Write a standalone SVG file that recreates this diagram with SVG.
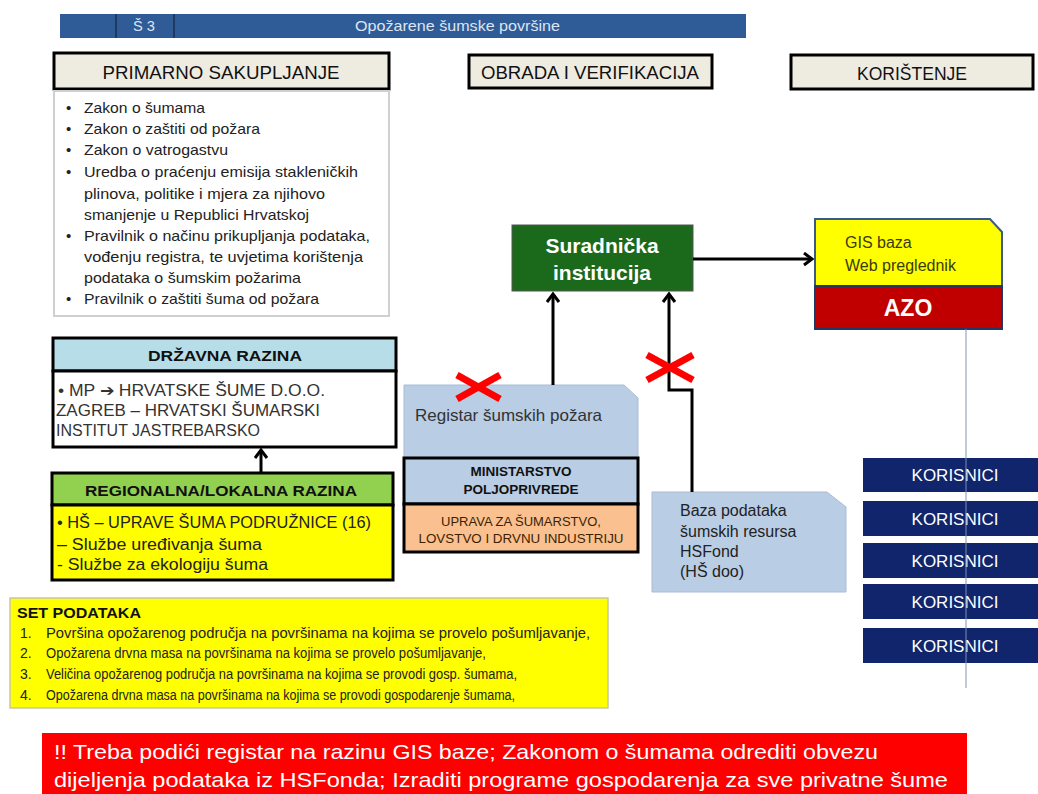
<svg xmlns="http://www.w3.org/2000/svg" width="1038" height="794" viewBox="0 0 1038 794">
<style>
text{font-family:"Liberation Sans",Arial,sans-serif;}
.hdr{fill:#eeece1;stroke:#000;stroke-width:3;}
.hdrt{font-size:18px;fill:#111;text-anchor:middle;}
.lst{font-size:15px;fill:#222;}
.conn{fill:none;stroke:#000;stroke-width:3;}
.xm{stroke:#ff0000;stroke-width:7;stroke-linecap:butt;}
.kor{fill:#10256b;}
.kort{font-size:17px;fill:#fff;text-anchor:middle;}
.lb{fill:#b9cde5;stroke:#a9bcd4;stroke-width:1;}
.bx{stroke:#000;stroke-width:3;}
</style>
<defs>
<marker id="ah" markerUnits="userSpaceOnUse" markerWidth="16" markerHeight="16" refX="11" refY="7" orient="auto">
<path d="M3,1 L11,7 L3,13" fill="none" stroke="#000" stroke-width="3"/>
</marker>
</defs>
<rect width="1038" height="794" fill="#fff"/>

<g id="title-bar">
<rect x="60" y="14" width="686" height="24" fill="#2f5b97"/>
<line x1="116" y1="14" x2="116" y2="38" stroke="#1a2f50" stroke-width="1.5"/>
<line x1="174" y1="14" x2="174" y2="38" stroke="#1a2f50" stroke-width="1.5"/>
<text x="133" y="31" font-size="15" fill="#dce6f2" textLength="22" lengthAdjust="spacingAndGlyphs">Š 3</text>
<text x="355" y="31" font-size="15" fill="#dce6f2" textLength="205" lengthAdjust="spacingAndGlyphs">Opožarene šumske površine</text>
</g>

<g id="hdr-primarno">
<rect class="hdr" x="54" y="53" width="335" height="36"/>
<text class="hdrt" x="221" y="79" textLength="237" lengthAdjust="spacingAndGlyphs">PRIMARNO SAKUPLJANJE</text>
</g>
<g id="hdr-obrada">
<rect class="hdr" x="469" y="55" width="243" height="33"/>
<text class="hdrt" x="590" y="79" textLength="218" lengthAdjust="spacingAndGlyphs">OBRADA I VERIFIKACIJA</text>
</g>
<g id="hdr-koristenje">
<rect class="hdr" x="791" y="55" width="242" height="34"/>
<text class="hdrt" x="912" y="80" textLength="110" lengthAdjust="spacingAndGlyphs">KORIŠTENJE</text>
</g>

<g id="zakoni">
<rect x="54" y="91" width="335" height="225" fill="#fff" stroke="#d0d0d0" stroke-width="2"/>
<g class="lst">
<text x="66" y="113">•</text><text x="84" y="113" textLength="121" lengthAdjust="spacingAndGlyphs">Zakon o šumama</text>
<text x="66" y="134">•</text><text x="84" y="134" textLength="176" lengthAdjust="spacingAndGlyphs">Zakon o zaštiti od požara</text>
<text x="66" y="155">•</text><text x="84" y="155" textLength="144" lengthAdjust="spacingAndGlyphs">Zakon o vatrogastvu</text>
<text x="66" y="177">•</text><text x="84" y="177" textLength="274" lengthAdjust="spacingAndGlyphs">Uredba o praćenju emisija stakleničkih</text>
<text x="84" y="199" textLength="241" lengthAdjust="spacingAndGlyphs">plinova, politike i mjera za njihovo</text>
<text x="84" y="220" textLength="225" lengthAdjust="spacingAndGlyphs">smanjenje u Republici Hrvatskoj</text>
<text x="66" y="241">•</text><text x="84" y="241" textLength="286" lengthAdjust="spacingAndGlyphs">Pravilnik o načinu prikupljanja podataka,</text>
<text x="84" y="262" textLength="279" lengthAdjust="spacingAndGlyphs">vođenju registra, te uvjetima korištenja</text>
<text x="84" y="283" textLength="217" lengthAdjust="spacingAndGlyphs">podataka o šumskim požarima</text>
<text x="66" y="304">•</text><text x="84" y="304" textLength="235" lengthAdjust="spacingAndGlyphs">Pravilnik o zaštiti šuma od požara</text>
</g>
</g>

<g id="drzavna">
<rect x="53" y="338" width="343" height="33" fill="#b7dee8" class="bx"/>
<rect x="53" y="371" width="343" height="76" fill="#fff" class="bx"/>
<text x="148" y="361" font-size="15" font-weight="bold" fill="#111" textLength="154" lengthAdjust="spacingAndGlyphs">DRŽAVNA RAZINA</text>
<g font-size="16" fill="#333">
<text x="58" y="396" textLength="267" lengthAdjust="spacingAndGlyphs">• MP ➔ HRVATSKE ŠUME D.O.O.</text>
<text x="56" y="416" textLength="264" lengthAdjust="spacingAndGlyphs">ZAGREB – HRVATSKI ŠUMARSKI</text>
<text x="56" y="436" textLength="204" lengthAdjust="spacingAndGlyphs">INSTITUT JASTREBARSKO</text>
</g>
</g>

<g id="regionalna">
<rect x="52" y="473" width="341" height="32" fill="#92d050" class="bx"/>
<rect x="52" y="505" width="341" height="75" fill="#ffff00" class="bx"/>
<text x="85" y="496" font-size="15" font-weight="bold" fill="#111" textLength="272" lengthAdjust="spacingAndGlyphs">REGIONALNA/LOKALNA RAZINA</text>
<g font-size="16" fill="#222">
<text x="57" y="528" textLength="314" lengthAdjust="spacingAndGlyphs">• HŠ – UPRAVE ŠUMA PODRUŽNICE (16)</text>
<text x="57" y="550" textLength="205" lengthAdjust="spacingAndGlyphs">–  Službe uređivanja šuma</text>
<text x="57" y="570" textLength="211" lengthAdjust="spacingAndGlyphs">- Službe za ekologiju šuma</text>
</g>
</g>

<g id="suradnicka">
<rect x="512" y="225" width="181" height="66" fill="#1b6a1b" stroke="#555" stroke-width="1"/>
<text x="602" y="253" font-size="21" font-weight="bold" fill="#fff" text-anchor="middle">Suradnička</text>
<text x="602" y="280" font-size="21" font-weight="bold" fill="#fff" text-anchor="middle">institucija</text>
</g>

<g id="registar">
<path class="lb" d="M404,385 L624,385 L638,398 L638,458 L404,458 Z"/>
<text x="415" y="421" font-size="16.5" fill="#333" textLength="187" lengthAdjust="spacingAndGlyphs">Registar šumskih požara</text>
</g>
<g id="ministarstvo">
<rect x="404" y="458" width="234" height="46" fill="#b9cde5" class="bx"/>
<text x="521" y="476" font-size="13.5" font-weight="bold" fill="#111" text-anchor="middle">MINISTARSTVO</text>
<text x="521" y="494" font-size="13.5" font-weight="bold" fill="#111" text-anchor="middle">POLJOPRIVREDE</text>
</g>
<g id="uprava">
<rect x="404" y="504" width="234" height="48" fill="#fac090" class="bx"/>
<text x="521" y="526" font-size="13" fill="#3d1f00" text-anchor="middle">UPRAVA ZA ŠUMARSTVO,</text>
<text x="521" y="543" font-size="13" fill="#3d1f00" text-anchor="middle" textLength="205" lengthAdjust="spacingAndGlyphs">LOVSTVO I DRVNU INDUSTRIJU</text>
</g>

<g id="baza">
<path class="lb" d="M652,492 L827,492 L846,507 L846,592 L652,592 Z"/>
<g font-size="16" fill="#222">
<text x="680" y="516">Baza podataka</text>
<text x="680" y="537">šumskih resursa</text>
<text x="680" y="557">HSFond</text>
<text x="680" y="577">(HŠ doo)</text>
</g>
</g>

<g id="gis">
<path d="M815,219 L990,219 L1002,232 L1002,286 L815,286 Z" fill="#ffff00" stroke="#3c5a86" stroke-width="2"/>
<text x="845" y="248" font-size="16" fill="#3a3a10">GIS baza</text>
<text x="845" y="271" font-size="16" fill="#3a3a10">Web preglednik</text>
</g>
<g id="azo">
<rect x="815" y="286" width="187" height="43" fill="#c00000" stroke="#1f3864" stroke-width="2"/>
<text x="908" y="316" font-size="23" font-weight="bold" fill="#fff" text-anchor="middle">AZO</text>
</g>

<g id="korisnici">
<rect class="kor" x="863" y="458" width="175" height="34"/><text class="kort" x="955" y="481">KORISNICI</text>
<rect class="kor" x="863" y="501" width="175" height="35"/><text class="kort" x="955" y="525">KORISNICI</text>
<rect class="kor" x="863" y="543" width="175" height="35"/><text class="kort" x="955" y="567">KORISNICI</text>
<rect class="kor" x="863" y="584" width="175" height="35"/><text class="kort" x="955" y="608">KORISNICI</text>
<rect class="kor" x="863" y="628" width="175" height="35"/><text class="kort" x="955" y="652">KORISNICI</text>
</g>

<g id="set-podataka">
<rect x="10" y="598" width="598" height="110" fill="#ffff00" stroke="#c8c8a0" stroke-width="1.5"/>
<text x="17" y="618" font-size="15" font-weight="bold" fill="#111" textLength="124" lengthAdjust="spacingAndGlyphs">SET PODATAKA</text>
<g font-size="14" fill="#222">
<text x="20" y="638">1.</text><text x="46" y="638" textLength="544" lengthAdjust="spacingAndGlyphs">Površina opožarenog područja na površinama na kojima se provelo pošumljavanje,</text>
<text x="20" y="658">2.</text><text x="46" y="658" textLength="440" lengthAdjust="spacingAndGlyphs">Opožarena drvna masa na površinama na kojima se provelo pošumljavanje,</text>
<text x="20" y="679">3.</text><text x="46" y="679" textLength="471" lengthAdjust="spacingAndGlyphs">Veličina opožarenog područja na površinama na kojima se provodi gosp. šumama,</text>
<text x="20" y="700">4.</text><text x="46" y="700" textLength="469" lengthAdjust="spacingAndGlyphs">Opožarena drvna masa na površinama na kojima se provodi gospodarenje šumama,</text>
</g>
</g>

<g id="napomena">
<rect x="42" y="733" width="925" height="61" fill="#ff0000"/>
<text x="54" y="759" font-size="21" fill="#fff" textLength="824" lengthAdjust="spacingAndGlyphs">!! Treba podići registar na razinu GIS baze; Zakonom o šumama odrediti obvezu</text>
<text x="54" y="787" font-size="21" fill="#fff" textLength="894" lengthAdjust="spacingAndGlyphs">dijeljenja podataka iz HSFonda; Izraditi programe gospodarenja za sve privatne šume</text>
</g>

<g id="connectors">
<path class="conn" d="M553,385 L553,294" marker-end="url(#ah)"/>
<path class="conn" d="M692,492 L692,390 L669,390 L669,294" marker-end="url(#ah)"/>
<path class="conn" d="M693,259 L812,259" marker-end="url(#ah)"/>
<path class="conn" d="M261,473 L261,450" marker-end="url(#ah)"/>
<line x1="966" y1="329" x2="966" y2="688" stroke="#7f93b5" stroke-width="1.2" opacity="0.8"/>
<line class="xm" x1="457" y1="375" x2="500" y2="399"/>
<line class="xm" x1="457" y1="399" x2="500" y2="375"/>
<line class="xm" x1="647" y1="355" x2="693" y2="380"/>
<line class="xm" x1="647" y1="380" x2="693" y2="355"/>
</g>
</svg>
